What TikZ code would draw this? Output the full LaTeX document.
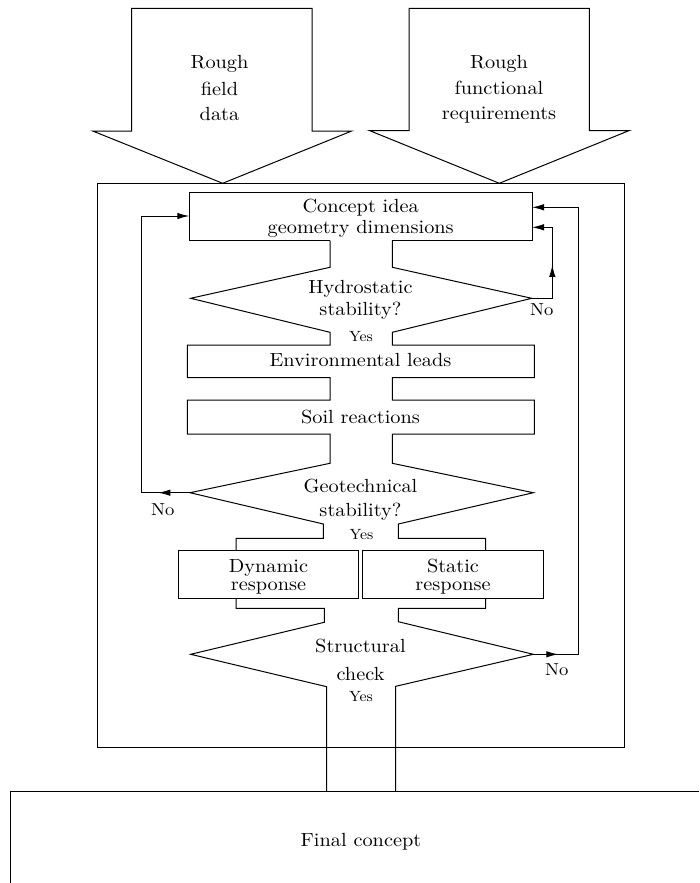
\documentclass[tikz,border=0pt]{standalone}
\usepackage{fontspec}
\setmainfont{lmroman10-regular.otf}
\usetikzlibrary{arrows.meta,decorations.markings}
% slightly widened lettering
\newcommand\wtxt[1]{\scalebox{1.07}[1]{#1}}
\tikzset{
  wallline/.style={line width=1pt, line join=miter, line cap=butt},
  txt/.style={anchor=base, inner sep=0pt, font=\fontsize{19}{22}\selectfont},
  yeslbl/.style={anchor=base, inner sep=0pt, font=\fontsize{14.8}{17}\selectfont},
  nolbl/.style={anchor=base, inner sep=0pt, font=\fontsize{17.4}{20}\selectfont},
  feedback/.style={wallline, -{Latex[length=12pt,width=6.5pt]},
    postaction={decorate},
    decoration={markings, mark=at position #1 with {\arrow{Latex[length=12pt,width=6.5pt]}}}},
  stepbox/.style={draw, wallline, inner sep=0pt, minimum height=48.3pt},
}
\begin{document}
\begin{tikzpicture}[x=1pt,y=-1pt]
\useasboundingbox (0,0) rectangle (699,883);

% two input arrows
\draw[wallline] (131.7,8.3) -- (131.7,131) -- (92.7,131) -- (222.7,183.3)
  -- (351.7,131) -- (312,131) -- (312,8.3) -- cycle;
\draw[wallline] (409,8.3) -- (409,130.5) -- (369.3,130.5) -- (499.3,183.3)
  -- (629.3,130.5) -- (589.3,130.5) -- (589.3,8.3) -- cycle;
\node[txt] (fieldA) at (219.5,69) {\wtxt{Rough}};
\node[txt] (fieldB) at (219.5,95.5) {\wtxt{field}};
\node[txt] (fieldC) at (219.5,120) {\wtxt{data}};
\node[txt] (reqA) at (499,69) {\wtxt{Rough}};
\node[txt] (reqB) at (499,94.5) {\wtxt{functional}};
\node[txt] (reqC) at (499,119.5) {\wtxt{requirements}};

% design loop frame
\draw[wallline] (97.3,183.3) rectangle (624.3,747.5);

% concept box, open at the bottom where the channel leaves it
\draw[wallline] (330,240.5) -- (189.3,240.5) -- (189.3,192.3) -- (532,192.3)
  -- (532,240.5) -- (392.3,240.5);
% left wall of the process channel
\draw[wallline] (330,240.5) -- (330,267.3) -- (190.7,298.3) -- (330,332.3)
  -- (330,345) -- (187.3,345) -- (187.3,377.7) -- (330,377.7)
  -- (330,400) -- (187.3,400) -- (187.3,434) -- (330,434)
  -- (330,463.3) -- (190,492.7) -- (323.3,524) -- (323.3,538.3)
  -- (236,538.3) -- (236,550);
% right wall of the process channel
\draw[wallline] (392.3,240.5) -- (392.3,267.3) -- (531.7,298.3) -- (392.3,332.3)
  -- (392.3,345) -- (534.3,345) -- (534.3,377.7) -- (392.3,377.7)
  -- (392.3,400) -- (534.3,400) -- (534.3,434) -- (392.3,434)
  -- (392.3,463.3) -- (533.3,492.7) -- (398.3,524) -- (398.3,538.3)
  -- (485.7,538.3) -- (485.7,550);

% response boxes
\node[stepbox, minimum width=179.6pt] (dyn) at (268.5,574.15) {};
\node[stepbox, minimum width=180.6pt] (stat) at (453,574.15) {};
\draw[wallline] (236,598.3) -- (236,608.3) -- (324.3,608.3) -- (324.3,622.3)
  -- (190.7,654.3) -- (326.7,686.7) -- (326.7,791);
\draw[wallline] (485.7,598.3) -- (485.7,608.3) -- (398.3,608.3) -- (398.3,621.7)
  -- (533.3,654.3) -- (395.7,686.3) -- (395.7,791);

% final concept box
\draw[wallline] (10,883) -- (10,791) -- (699,791);

% labels
\node[txt] (conA) at (360.7,212.3) {\wtxt{Concept idea}};
\node[txt] (conB) at (360.7,233) {\wtxt{geometry dimensions}};
\node[txt] (hydA) at (360.5,293.3) {\wtxt{Hydrostatic}};
\node[txt] (hydB) at (360.5,315.7) {\wtxt{stability?}};
\node[yeslbl] (hydY) at (361,341.5) {\wtxt{Yes}};
\node[txt] (env) at (360.5,366.7) {\wtxt{Environmental leads}};
\node[txt] (soil) at (360.5,423.8) {\wtxt{Soil reactions}};
\node[txt] (geoA) at (360.5,492.3) {\wtxt{Geotechnical}};
\node[txt] (geoB) at (360.5,516) {\wtxt{stability?}};
\node[yeslbl] (geoY) at (361.5,539.3) {\wtxt{Yes}};
\node[txt] (dynA) at (268.5,572.7) {\wtxt{Dynamic}};
\node[txt] (dynB) at (268.5,590.7) {\wtxt{response}};
\node[txt] (statA) at (453,572.7) {\wtxt{Static}};
\node[txt] (statB) at (453,590.7) {\wtxt{response}};
\node[txt] (strA) at (360.5,652.5) {\wtxt{Structural}};
\node[txt] (strB) at (360.5,680) {\wtxt{check}};
\node[yeslbl] (strY) at (361,701.5) {\wtxt{Yes}};
\node[txt] (final) at (361,846) {\wtxt{Final concept}};

% feedback loops
\coordinate (hydR) at (531.7,298.3);
\coordinate (geoL) at (190,492.7);
\coordinate (strR) at (533.3,654.3);
\coordinate (turnH) at (552.3,227.3);
\coordinate (turnL) at (141.7,216);
\coordinate (turnS) at (578.3,207.3);
\coordinate (inH) at (532,227.3);
\coordinate (inL) at (189.3,216);
\coordinate (inS) at (532,207.3);
\draw[feedback=54pt] (hydR) -| (turnH) -- (inH);
\draw[feedback=31.7pt] (geoL) -| (turnL) -- (inL);
\draw[feedback=25pt] (strR) -| (turnS) -- (inS);
\node[nolbl] (hydN) at (541.7,315) {\wtxt{No}};
\node[nolbl] (geoN) at (162.7,515) {\wtxt{No}};
\node[nolbl] (strN) at (556.7,675.7) {\wtxt{No}};
\end{tikzpicture}
\end{document}
